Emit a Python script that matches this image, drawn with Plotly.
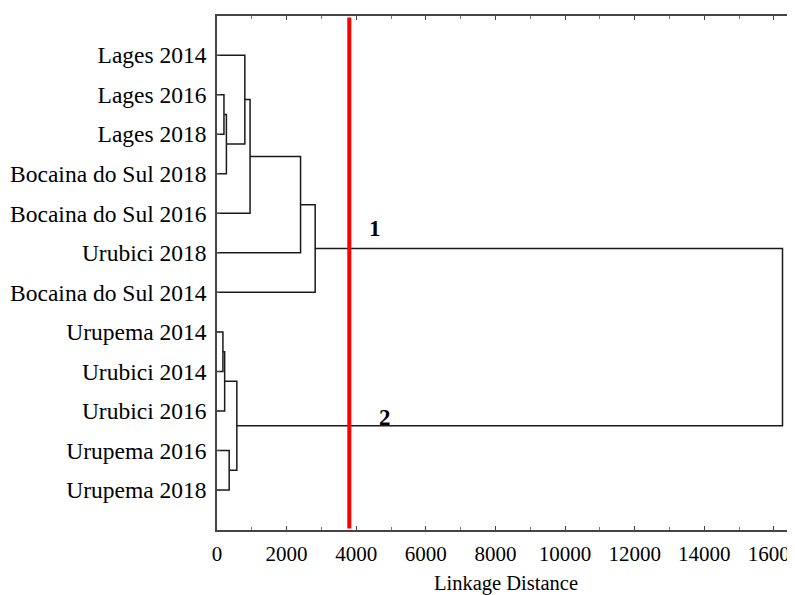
import plotly.graph_objects as go

# Leaves, top to bottom
leaves = ["Lages 2014", "Lages 2016", "Lages 2018", "Bocaina do Sul 2018",
          "Bocaina do Sul 2016", "Urubici 2018", "Bocaina do Sul 2014",
          "Urupema 2014", "Urubici 2014", "Urubici 2016", "Urupema 2016",
          "Urupema 2018"]

# Merges: (cluster a, cluster b, linkage distance); new clusters numbered from len(leaves)
merge_a = [1, 12, 0, 14, 15, 16, 7, 18, 10, 19, 17]
merge_b = [2, 3, 13, 4, 5, 6, 8, 9, 11, 20, 21]
merge_h = [200, 270, 800, 950, 2400, 2820, 170, 220, 350, 570, 16245]

cut_distance = 3800
cluster_labels = ["1", "2"]
cluster_label_x = [4540, 4830]
cluster_label_y = [4.38, 9.16]

x_ticks = [0, 2000, 4000, 6000, 8000, 10000, 12000, 14000, 16000]

# Build dendrogram segments
pos = {i: float(i) for i in range(len(leaves))}
height = {i: 0.0 for i in range(len(leaves))}
xs, ys = [], []
for k, (a, b, h) in enumerate(zip(merge_a, merge_b, merge_h)):
    nid = len(leaves) + k
    xs += [height[a], h, h, height[b], None]
    ys += [pos[a], pos[a], pos[b], pos[b], None]
    pos[nid] = (pos[a] + pos[b]) / 2
    height[nid] = h

fig = go.Figure()
fig.add_trace(go.Scatter(x=xs, y=ys, mode="lines",
                         line=dict(color="#1a1a1a", width=1.5),
                         hoverinfo="skip", showlegend=False))

fig.add_shape(type="line", x0=cut_distance, x1=cut_distance, xref="x",
              y0=0.003, y1=0.997, yref="paper",
              line=dict(color="#ff0000", width=4))

for t, x, y in zip(cluster_labels, cluster_label_x, cluster_label_y):
    fig.add_annotation(x=x, y=y, text="<b>" + t + "</b>", showarrow=False,
                       font=dict(family="Liberation Serif", size=23, color="#000"))

fig.update_layout(
    width=787, height=587,
    margin=dict(l=209, r=0, t=8, b=65, autoexpand=False),
    plot_bgcolor="white", paper_bgcolor="white",
    font=dict(family="Liberation Serif", color="#000"),
)
fig.update_xaxes(
    range=[0, 16604], tickvals=x_ticks, ticktext=[str(v) for v in x_ticks],
    ticks="inside", ticklen=4, tickcolor="#444", tickwidth=1,
    minor=dict(dtick=1000, tick0=0, ticks="inside", ticklen=3, tickcolor="#777"),
    showline=True, linecolor="#444", linewidth=1.5, mirror="ticks",
    showgrid=False, zeroline=False, automargin=False,
    ticklabeloverflow="allow", ticklabelstandoff=4,
    tickfont=dict(size=21, family="Liberation Serif", color="#000"),
    title=dict(text="Linkage Distance", font=dict(size=20.5, family="Liberation Serif", color="#000"),
               standoff=37),
)
fig.update_yaxes(
    range=[12.01, -0.99], tickvals=list(range(len(leaves))), ticktext=leaves,
    ticks="inside", ticklen=3, tickcolor="#444",
    showline=True, linecolor="#444", linewidth=1.5, mirror=False,
    showgrid=False, zeroline=False, automargin=False,
    tickfont=dict(size=23.5, family="Liberation Serif", color="#000"),
    ticklabelstandoff=4,
)

fig.write_html("out.html")
